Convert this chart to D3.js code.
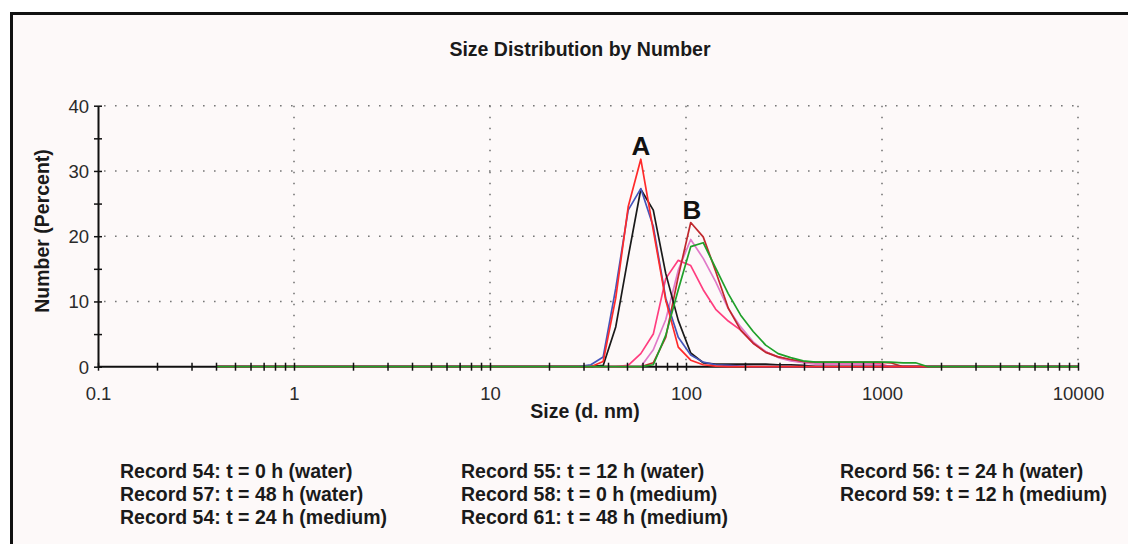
<!DOCTYPE html>
<html>
<head>
<meta charset="utf-8">
<script src="https://cdn.jsdelivr.net/npm/d3@7"></script>
<style>
  body { margin: 0; background: #fff; }
  text { font-family: "Liberation Sans", Arial, sans-serif; }
</style>
</head>
<body>
<svg id="canvas" width="1128" height="544"></svg>
<script>
// bin sizes (d. nm)
let sizes = [0.4, 28.2, 32.7, 37.8, 43.8, 50.7, 58.8, 68.1, 78.8, 91.3, 105.7, 122.4, 141.8, 164.2, 190.1, 220.2,
  255.0, 295.3, 342.0, 396.1, 458.7, 531.2, 615.1, 712.4, 825.0, 955.4, 1106, 1281, 1484, 1718, 1990, 10000];

// number (%) per bin
let redVals = [0, 0, 0, 0.8, 10.5, 24.5, 31.8, 20.9, 10.2, 3.0, 1.0, 0.3, 0.1, 0, 0, 0, 0, 0, 0, 0, 0, 0, 0, 0, 0, 0, 0, 0, 0, 0, 0, 0];
let blueVals = [0, 0, 0.3, 1.5, 12.0, 24.0, 27.3, 21.5, 10.5, 4.5, 1.8, 0.7, 0.3, 0.2, 0.1, 0, 0, 0, 0, 0, 0, 0, 0, 0, 0, 0, 0, 0, 0, 0, 0, 0];
let blackVals = [0, 0, 0, 0.2, 6.1, 16.8, 27.2, 24.0, 14.3, 7.1, 2.1, 0.6, 0.4, 0.4, 0.4, 0.4, 0.4, 0.3, 0.3, 0.2, 0, 0, 0, 0, 0, 0, 0, 0, 0, 0, 0, 0];
let darkRedVals = [0, 0, 0, 0, 0, 0, 0, 0.6, 4.5, 13.8, 22.1, 19.9, 14.6, 9.0, 5.6, 3.6, 2.2, 1.5, 1.1, 0.8, 0.7, 0.7, 0.7, 0.7, 0.7, 0.7, 0.6, 0, 0, 0, 0, 0];
let orchidVals = [0, 0, 0, 0, 0, 0, 0, 2.6, 7.2, 14.8, 19.5, 16.6, 13.0, 8.9, 6.1, 3.8, 2.3, 1.4, 0.9, 0.6, 0.4, 0.4, 0.4, 0.4, 0.4, 0.3, 0, 0, 0, 0, 0, 0];
let hotPinkVals = [0, 0, 0, 0, 0, 0.2, 2.0, 5.0, 13.5, 16.3, 15.5, 11.8, 8.8, 7.0, 5.6, 3.6, 2.3, 1.5, 1.0, 0.7, 0.5, 0.5, 0.5, 0.5, 0.5, 0.5, 0, 0, 0, 0, 0, 0];
let greenVals = [0, 0, 0, 0, 0, 0, 0, 0.3, 4.8, 11.8, 18.4, 19.0, 15.1, 11.2, 7.9, 5.4, 3.3, 2.0, 1.4, 0.9, 0.7, 0.7, 0.7, 0.7, 0.7, 0.7, 0.7, 0.6, 0.6, 0, 0, 0];

// drawing order, green last (it sits on the baseline)
let seriesVals = [hotPinkVals, orchidVals, darkRedVals, blackVals, blueVals, redVals, greenVals];
let seriesColors = ["#ff3d7f", "#e07ac8", "#c0282d", "#1a1a1a", "#4455bb", "#ff2a2a", "#1fa02a"];

let xTicks = [0.1, 1, 10, 100, 1000, 10000];
let yTicks = [0, 10, 20, 30, 40];

let legendCol1 = ["Record 54: t = 0 h (water)", "Record 57: t = 48 h (water)", "Record 54: t = 24 h (medium)"];
let legendCol2 = ["Record 55: t = 12 h (water)", "Record 58: t = 0 h (medium)", "Record 61: t = 48 h (medium)"];
let legendCol3 = ["Record 56: t = 24 h (water)", "Record 59: t = 12 h (medium)"];

let canvas = d3.select("#canvas");

let xScale = d3.scaleLog().domain([0.1, 10000]).range([98, 1078]);
let yScale = d3.scaleLinear().domain([0, 40]).range([366.7, 105.7]);

// background + frame (only top/left edges visible)
canvas.append("rect").attr("x", 11.5).attr("y", 13.5).attr("width", 1130).attr("height", 540).attr("fill", "#fdf9f9");
canvas.append("path").attr("d", "M11.5,560V13.5H1140").attr("fill", "none").attr("stroke", "#111").attr("stroke-width", 3);

canvas.append("text").attr("x", 580).attr("y", 56).attr("text-anchor", "middle")
  .attr("font-size", 19.5).attr("font-weight", "bold").attr("fill", "#1a1a1a")
  .text("Size Distribution by Number");

// dotted grid
let grid = canvas.append("g").attr("stroke", "#777").attr("stroke-width", 1.6).attr("stroke-dasharray", "1.6 9.4");
grid.selectAll(".hg").data(yTicks.filter(d => d > 0)).enter().append("line")
  .attr("x1", xScale(0.1) + 6).attr("x2", xScale(10000))
  .attr("y1", d => yScale(d)).attr("y2", d => yScale(d));
grid.selectAll(".vg").data(xTicks.filter(d => d > 0.1)).enter().append("line")
  .attr("x1", d => xScale(d)).attr("x2", d => xScale(d))
  .attr("y1", yScale(40)).attr("y2", yScale(0));

// baseline under the curves
canvas.append("line").attr("x1", xScale(0.1)).attr("x2", xScale(10000))
  .attr("y1", yScale(0)).attr("y2", yScale(0)).attr("stroke", "#111").attr("stroke-width", 2);

let line = d3.line().x((d, i) => xScale(sizes[i])).y(d => yScale(d));
canvas.selectAll(".curve").data(seriesVals).enter().append("path")
  .attr("class", "curve")
  .attr("d", d => line(d))
  .attr("fill", "none")
  .attr("stroke", (d, i) => seriesColors[i])
  .attr("stroke-width", 1.7)
  .attr("stroke-linejoin", "round");

// x axis ticks (cross the axis), labels only on decades
let minorX = [];
for (let dec of [0.1, 1, 10, 100, 1000]) for (let k = 1; k <= 9; k++) minorX.push(+(dec * k).toPrecision(3));
minorX.push(10000);

let xAxis = canvas.append("g").attr("transform", `translate(0,${yScale(0)})`)
  .call(d3.axisBottom(xScale).tickValues(minorX).tickSizeOuter(0)
    .tickFormat(d => xTicks.includes(d) ? d3.format("~g")(d) : ""));
xAxis.select(".domain").remove();
xAxis.selectAll(".tick line").attr("y1", -4).attr("y2", 4).attr("stroke", "#111").attr("stroke-width", 1.5);
xAxis.selectAll(".tick text").attr("y", 33).attr("dy", 0)
  .attr("font-size", 18.5).attr("fill", "#2a2a2a").style("font-family", '"Liberation Sans", Arial, sans-serif');

let yAxis = canvas.append("g").attr("transform", `translate(${xScale(0.1)},0)`)
  .call(d3.axisLeft(yScale).tickValues(d3.range(0, 41, 5)).tickSizeOuter(0)
    .tickFormat(d => yTicks.includes(d) ? d : ""));
yAxis.select(".domain").attr("stroke", "#111").attr("stroke-width", 2);
yAxis.selectAll(".tick line").attr("x1", -4).attr("x2", 4).attr("stroke", "#111").attr("stroke-width", 1.5);
yAxis.selectAll(".tick text").attr("x", -9).attr("dy", "0.35em")
  .attr("font-size", 18.5).attr("fill", "#2a2a2a").style("font-family", '"Liberation Sans", Arial, sans-serif');

canvas.append("text").attr("x", 585).attr("y", 418).attr("text-anchor", "middle")
  .attr("font-size", 19.5).attr("font-weight", "bold").attr("fill", "#1a1a1a").text("Size (d. nm)");
canvas.append("text").attr("transform", "translate(49,231) rotate(-90)").attr("text-anchor", "middle")
  .attr("font-size", 19.5).attr("font-weight", "bold").attr("fill", "#1a1a1a").text("Number (Percent)");

// peak labels
canvas.append("text").attr("x", xScale(58.8)).attr("y", 155).attr("text-anchor", "middle")
  .attr("font-size", 26).attr("font-weight", "bold").attr("fill", "#111").text("A");
canvas.append("text").attr("x", 692).attr("y", 219).attr("text-anchor", "middle")
  .attr("font-size", 26).attr("font-weight", "bold").attr("fill", "#111").text("B");

// legend text
let legendCols = [[120, legendCol1], [461, legendCol2], [840, legendCol3]];
legendCols.forEach(([lx, labels]) => {
  canvas.append("g").selectAll("text").data(labels).enter().append("text")
    .attr("x", lx).attr("y", (d, i) => 478 + i * 23)
    .attr("font-size", 19.5).attr("font-weight", "bold").attr("fill", "#1a1a1a")
    .text(d => d);
});
</script>
</body>
</html>
